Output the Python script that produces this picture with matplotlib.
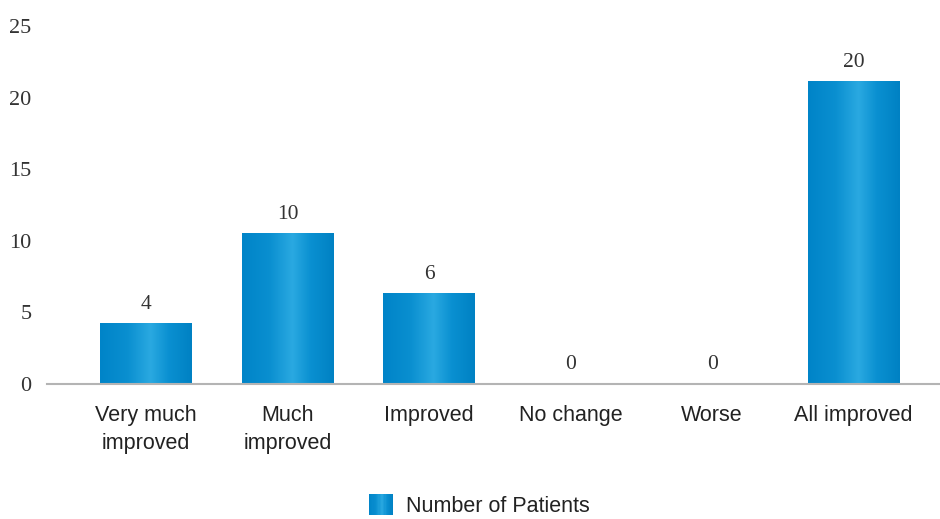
import numpy as np
import matplotlib.pyplot as plt
from matplotlib.colors import LinearSegmentedColormap
from matplotlib.patches import Rectangle, Patch
from matplotlib.legend_handler import HandlerBase

categories = ["Very much\nimproved", "Much\nimproved", "Improved",
              "No change", "Worse", "All improved"]
label_values = [4, 10, 6, 0, 0, 20]
bar_heights = [4.2, 10.5, 6.3, 0, 0, 21.1]   # as drawn in the picture
series_name = "Number of Patients"
yticks = [0, 5, 10, 15, 20, 25]

grad = LinearSegmentedColormap.from_list(
    "bar", [(0.0, "#0084c8"), (0.3, "#0a8fd0"), (0.55, "#2aa9e1"),
            (0.75, "#0a90d1"), (1.0, "#0081c3")])


class GradientHandler(HandlerBase):
    def create_artists(self, legend, orig_handle, xdescent, ydescent,
                       width, height, fontsize, trans):
        n = 20
        arts = []
        for i in range(n):
            r = Rectangle((-xdescent + width * i / n, -ydescent), width / n + 0.3,
                          height, facecolor=grad((i + 0.5) / n),
                          edgecolor="none", transform=trans)
            arts.append(r)
        return arts


fig = plt.figure(figsize=(9.4, 5.19), dpi=100)
ax = fig.add_axes([47 / 940, 1 - 384 / 519, 893 / 940, 358 / 519])

x = np.arange(len(categories))
w = 0.65
bars = ax.bar(x, bar_heights, width=w, color="none", edgecolor="none")

gimg = np.linspace(0, 1, 256).reshape(1, -1)
for b in bars:
    h = b.get_height()
    if h <= 0:
        continue
    x0 = b.get_x()
    ax.imshow(gimg, cmap=grad, aspect="auto", interpolation="bilinear",
              extent=(x0, x0 + b.get_width(), 0, h), zorder=2)

for xi, h, v in zip(x, bar_heights, label_values):
    ax.annotate(str(v), (xi, h), xytext=(0, 7), textcoords="offset points",
                ha="center", va="bottom", fontsize=15.5,
                family="Liberation Serif", color="#333333")

ax.set_xlim(-0.70, 5.61)
ax.set_ylim(0, 25)
ax.set_yticks(yticks)
ax.set_yticklabels([str(t) for t in yticks], family="Liberation Serif",
                   fontsize=16, color="#333333")
ax.set_xticks(x)
ax.set_xticklabels(categories, family="Liberation Sans", fontsize=15.5,
                   color="#222222", linespacing=1.45)
ax.tick_params(axis="both", length=0)
ax.tick_params(axis="y", pad=11)
ax.tick_params(axis="x", pad=15)

for s in ["top", "right", "left"]:
    ax.spines[s].set_visible(False)
ax.spines["bottom"].set_color("#b4b4b4")
ax.spines["bottom"].set_linewidth(1.5)
ax.spines["bottom"].set_zorder(3)

fig.legend([Patch()], [series_name], handler_map={Patch: GradientHandler()},
           loc="lower center", bbox_to_anchor=(0.51, -0.033), frameon=False,
           prop={"family": "Liberation Sans", "size": 15.5},
           handlelength=1.12, handleheight=1.12, handletextpad=0.62,
           labelcolor="#222222")

fig.savefig("out.png", dpi=100)
